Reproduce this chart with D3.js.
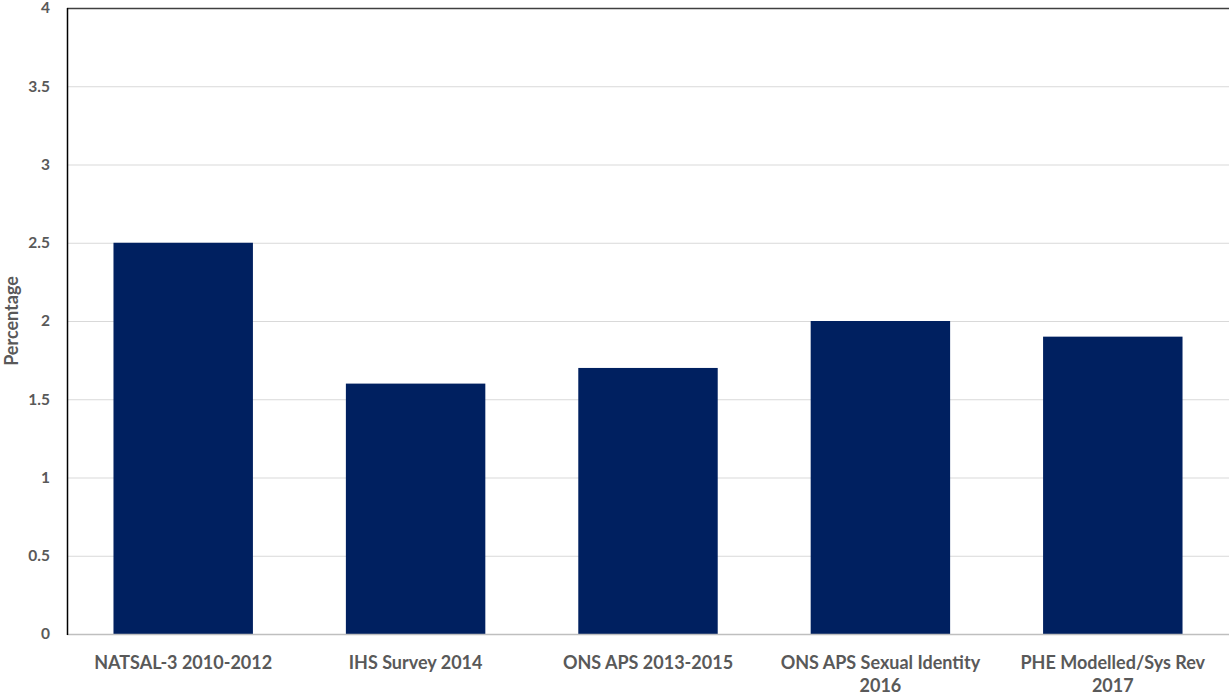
<!DOCTYPE html>
<html>
<head>
<meta charset="utf-8">
<script src="https://cdn.jsdelivr.net/npm/d3@7"></script>
<style>
  html, body { margin: 0; padding: 0; background: #fff; }
  svg { display: block; }
  text { font-family: Lato, "Open Sans", sans-serif; font-weight: bold; fill: #595959; }
</style>
</head>
<body>
<svg id="chart" width="1229" height="697"></svg>
<script>
// Survey sources and the estimated percentage from each
const categories = [
  ["NATSAL-3 2010-2012"],
  ["IHS Survey 2014"],
  ["ONS APS 2013-2015"],
  ["ONS APS Sexual Identity", "2016"],
  ["PHE Modelled/Sys Rev", "2017"]
];
const values = [2.5, 1.6, 1.7, 2.0, 1.9];
const yTicks = [0, 0.5, 1, 1.5, 2, 2.5, 3, 3.5, 4];
const yTickLabels = ["0", "0.5", "1", "1.5", "2", "2.5", "3", "3.5", "4"];
const yTitle = "Percentage";

const svg = d3.select("#chart");
const width = 1229, height = 697;
const margin = { top: 8, right: 0, bottom: 63, left: 67 };

const x = d3.scaleBand()
  .domain(d3.range(categories.length))
  .range([margin.left, width - margin.right])
  .paddingInner(0.4)
  .paddingOuter(0.2);

const y = d3.scaleLinear()
  .domain([0, 4])
  .range([height - margin.bottom, margin.top]);

// horizontal gridlines
svg.append("g")
  .selectAll("line")
  .data(yTicks.filter(t => t > 0 && t < 4))
  .join("line")
  .attr("x1", margin.left)
  .attr("x2", width - margin.right)
  .attr("y1", d => y(d) + 0.5)
  .attr("y2", d => y(d) + 0.5)
  .attr("stroke", "#d9d9d9")
  .attr("stroke-width", 1);

// top frame line
svg.append("line")
  .attr("x1", margin.left).attr("x2", width - margin.right)
  .attr("y1", y(4) + 0.5).attr("y2", y(4) + 0.5)
  .attr("stroke", "#404040").attr("stroke-width", 1.5);

// bars
svg.append("g")
  .selectAll("rect")
  .data(values)
  .join("rect")
  .attr("x", (d, i) => x(i))
  .attr("width", x.bandwidth())
  .attr("y", d => y(d))
  .attr("height", d => y(0) - y(d))
  .attr("fill", "#002060");

// bottom axis line
svg.append("line")
  .attr("x1", margin.left).attr("x2", width - margin.right)
  .attr("y1", y(0) + 0.5).attr("y2", y(0) + 0.5)
  .attr("stroke", "#bfbfbf").attr("stroke-width", 1.5);

// left axis line
svg.append("line")
  .attr("x1", margin.left + 0.5).attr("x2", margin.left + 0.5)
  .attr("y1", y(4)).attr("y2", y(0) + 1)
  .attr("stroke", "#000").attr("stroke-width", 1.5);

// y tick labels
const yAxis = d3.axisLeft(y)
  .tickValues(yTicks)
  .tickFormat((d, i) => yTickLabels[i])
  .tickSize(0)
  .tickPadding(17);
const ya = svg.append("g")
  .attr("transform", `translate(${margin.left},0)`)
  .call(yAxis);
ya.select(".domain").remove();
ya.selectAll("text")
  .style("font-size", "15.5px")
  .style("font-family", "Lato, sans-serif")
  .attr("fill", "#595959");

// x category labels
const xg = svg.append("g");
categories.forEach((lines, i) => {
  const t = xg.append("text")
    .attr("x", x(i) + x.bandwidth() / 2)
    .attr("y", y(0) + 35)
    .attr("text-anchor", "middle")
    .style("font-size", "18px");
  lines.forEach((ln, j) => {
    t.append("tspan")
      .attr("x", x(i) + x.bandwidth() / 2)
      .attr("dy", j === 0 ? 0 : 23)
      .text(ln);
  });
});

// y axis title
svg.append("text")
  .attr("transform", `translate(18,${(y(0) + y(4)) / 2}) rotate(-90)`)
  .attr("text-anchor", "middle")
  .style("font-size", "18px")
  .text(yTitle);
</script>
</body>
</html>
